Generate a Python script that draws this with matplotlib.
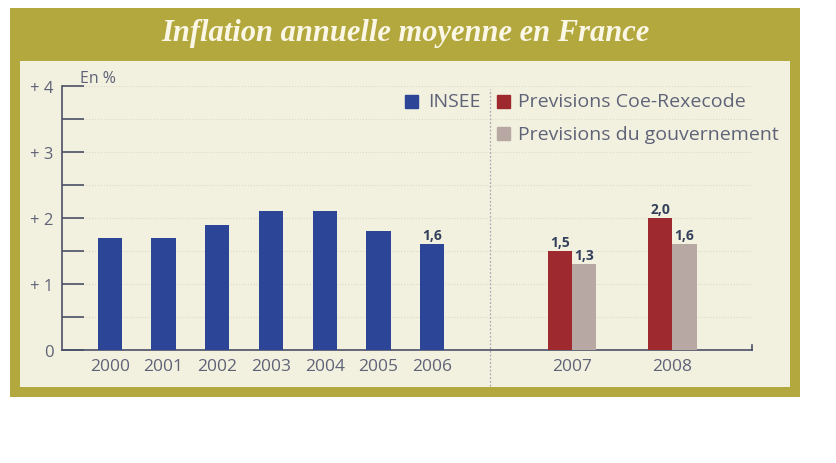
import matplotlib
matplotlib.use("Agg")
import matplotlib.pyplot as plt
from matplotlib.patches import Rectangle
import numpy as np

# données (INSEE puis prévisions)
years_insee = ["2000", "2001", "2002", "2003", "2004", "2005", "2006"]
insee = [1.7, 1.7, 1.9, 2.1, 2.1, 1.8, 1.6]
years_prev = ["2007", "2008"]
coe_rexecode = [1.5, 2.0]
gouvernement = [1.3, 1.6]

olive = "#b3a83e"
panel = "#f2f0de"
blue = "#2d4596"
red = "#9e2a30"
grey = "#b8a8a4"
txt = "#5e6378"
lbl = "#35415c"

fig = plt.figure(figsize=(8.36, 4.64), dpi=100)
fig.patch.set_facecolor("white")

# cadre olive + panneau clair (coordonnées pixels -> fraction)
W, H = 836, 464
def box(x0, y0, x1, y1, **kw):
    fig.patches.append(Rectangle((x0 / W, 1 - y1 / H), (x1 - x0) / W, (y1 - y0) / H,
                                 transform=fig.transFigure, **kw))

box(10, 9, 800, 398, facecolor=olive, edgecolor="none", zorder=0)
box(20, 62, 790, 388, facecolor=panel, edgecolor="none", zorder=0)

fig.text(405 / W, 1 - 33 / H, "Inflation annuelle moyenne en France", ha="center", va="center",
         fontsize=22, fontweight="bold", style="italic", family="Liberation Serif", color="#fbf7e6")

ax = fig.add_axes([62 / W, 113 / H, 690 / W, 264 / H])
ax.set_zorder(2)
ax.set_facecolor("none")

x_insee = np.arange(len(years_insee))
x_prev = np.array([8.6, 10.47])
w = 0.45

ax.bar(x_insee, insee, width=w, color=blue, zorder=3)
ax.bar(x_prev - w / 2, coe_rexecode, width=w, color=red, zorder=3)
ax.bar(x_prev + w / 2, gouvernement, width=w, color=grey, zorder=3)

lab_kw = dict(ha="center", va="bottom", fontsize=10, fontweight="bold", color=lbl, family="Open Sans")
ax.text(x_insee[-1], insee[-1] + 0.03, f"{insee[-1]:.1f}".replace(".", ","), **lab_kw)
for xp, a, b in zip(x_prev, coe_rexecode, gouvernement):
    ax.text(xp - w / 2, a + 0.03, f"{a:.1f}".replace(".", ","), **lab_kw)
    ax.text(xp + w / 2, b + 0.03, f"{b:.1f}".replace(".", ","), **lab_kw)

ax.set_xlim(-0.89, 11.95)
ax.set_ylim(0, 4)
ax.set_xticks(list(x_insee) + list(x_prev))
ax.set_xticklabels(years_insee + years_prev, fontsize=12.5, color=txt, family="Open Sans")
ax.tick_params(axis="x", length=0, pad=6)
ax.set_yticks([0, 1, 2, 3, 4])
ax.set_yticklabels(["0", "+ 1", "+ 2", "+ 3", "+ 4"], fontsize=12, color=txt, family="Open Sans")
ax.set_yticks(np.arange(0.5, 4, 1), minor=True)
ax.tick_params(axis="y", which="both", direction="in", length=16, width=1.2, color="#4a5068", pad=6)
ax.yaxis.grid(True, which="both", linestyle=":", color="#dcd9c6", linewidth=0.8, zorder=0)

for s in ["top", "right"]:
    ax.spines[s].set_visible(False)
ax.spines["left"].set_color("#4a5068")
ax.spines["bottom"].set_color("#4a5068")
ax.spines["left"].set_linewidth(1.2)
ax.spines["bottom"].set_linewidth(1.2)
ax.plot([11.95, 11.95], [0, 0.08], color="#4a5068", lw=1.2, clip_on=False)

fig.text(80 / W, 1 - 79 / H, "En %", fontsize=11.5, color=txt, family="Open Sans", va="center")

# séparateur pointillé
ax.plot([7.08, 7.08], [-0.55, 3.95], color="#a9a9b4", lw=0.9, linestyle=(0, (1.5, 1.5)), clip_on=False)

# légende
leg_kw = dict(fontsize=14, color=txt, family="Open Sans", va="center")
fig.patches.append(Rectangle((405 / W, 1 - 109 / H), 13 / W, 13 / H, transform=fig.transFigure, color=blue))
fig.text(428 / W, 1 - 102 / H, "INSEE", **leg_kw)
fig.patches.append(Rectangle((497 / W, 1 - 109 / H), 13 / W, 13 / H, transform=fig.transFigure, color=red))
fig.text(518 / W, 1 - 102 / H, "Previsions Coe-Rexecode", **leg_kw)
fig.patches.append(Rectangle((497 / W, 1 - 141 / H), 13 / W, 13 / H, transform=fig.transFigure, color=grey))
fig.text(518 / W, 1 - 135 / H, "Previsions du gouvernement", **leg_kw)

fig.savefig("out.png", dpi=100, facecolor="white")
